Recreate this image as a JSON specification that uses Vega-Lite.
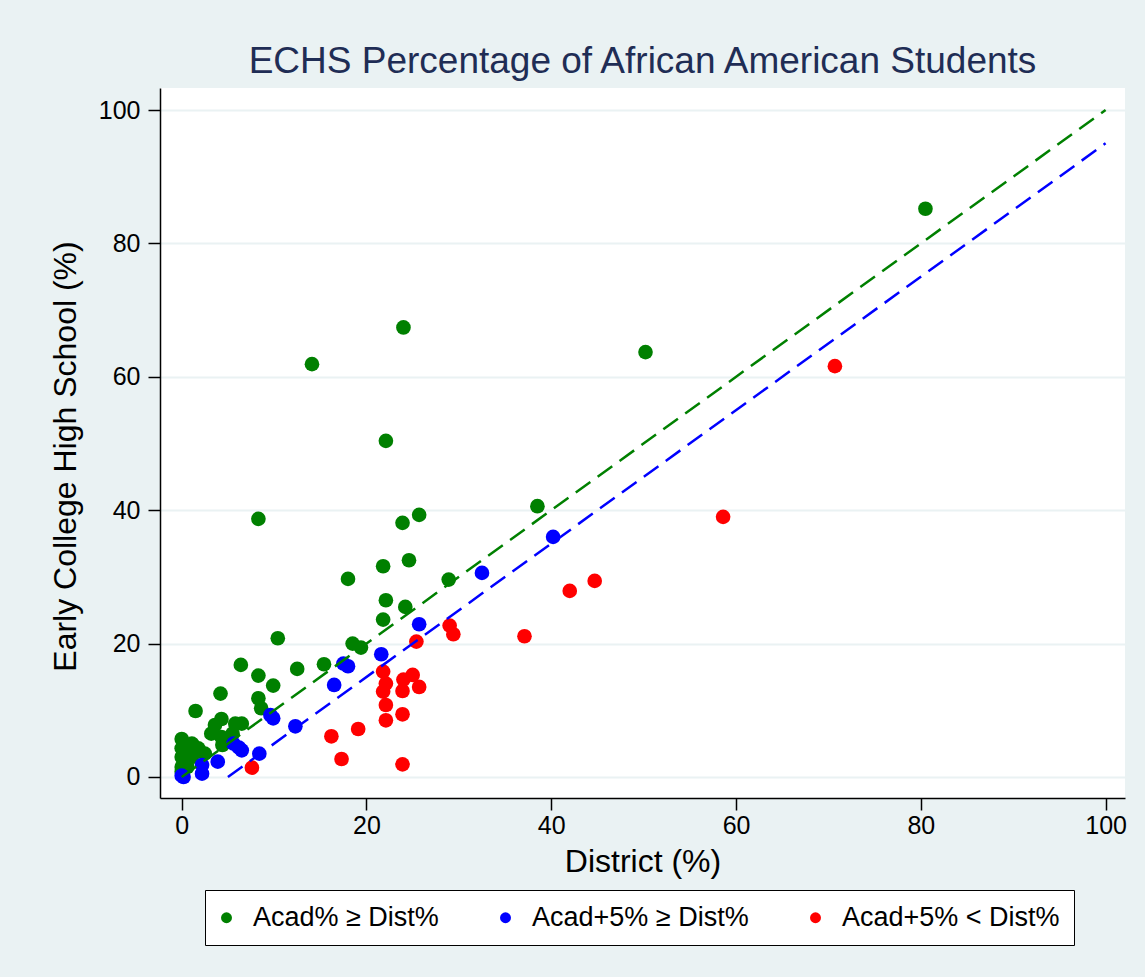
{
  "$schema": "https://vega.github.io/schema/vega-lite/v6.json",
  "autosize": {"type": "none"},
  "padding": {"left": 160, "top": 88, "right": 20, "bottom": 179},
  "width": 965,
  "height": 710,
  "background": "#EAF2F3",
  "title": {
    "text": "ECHS Percentage of African American Students",
    "font": "Liberation Sans",
    "fontSize": 37,
    "fontWeight": "normal",
    "color": "#1F2D55",
    "anchor": "middle",
    "offset": 7
  },
  "config": {
    "view": {"fill": "white", "stroke": null},
    "axis": {
      "domainColor": "black",
      "domainWidth": 1.5,
      "tickColor": "black",
      "tickWidth": 1.5,
      "tickSize": 12,
      "labelFont": "Liberation Sans",
      "labelFontSize": 25,
      "labelColor": "black",
      "titleFont": "Liberation Sans",
      "titleFontSize": 32,
      "titleFontWeight": "normal",
      "titleColor": "black"
    },
    "legend": {
      "labelFont": "Liberation Sans",
      "labelFontSize": 27,
      "labelColor": "black",
      "labelLimit": 0
    }
  },
  "datasets": {
    "pts": [
      {"district": 80.5, "echs": 85.2, "group": "Acad% ≥ Dist%"},
      {"district": 50.2, "echs": 63.7, "group": "Acad% ≥ Dist%"},
      {"district": 24.0, "echs": 67.4, "group": "Acad% ≥ Dist%"},
      {"district": 14.1, "echs": 61.9, "group": "Acad% ≥ Dist%"},
      {"district": 22.1, "echs": 50.4, "group": "Acad% ≥ Dist%"},
      {"district": 8.3, "echs": 38.7, "group": "Acad% ≥ Dist%"},
      {"district": 38.5, "echs": 40.6, "group": "Acad% ≥ Dist%"},
      {"district": 23.9, "echs": 38.1, "group": "Acad% ≥ Dist%"},
      {"district": 25.7, "echs": 39.3, "group": "Acad% ≥ Dist%"},
      {"district": 18.0, "echs": 29.7, "group": "Acad% ≥ Dist%"},
      {"district": 28.9, "echs": 29.6, "group": "Acad% ≥ Dist%"},
      {"district": 21.8, "echs": 31.6, "group": "Acad% ≥ Dist%"},
      {"district": 24.6, "echs": 32.5, "group": "Acad% ≥ Dist%"},
      {"district": 22.1, "echs": 26.5, "group": "Acad% ≥ Dist%"},
      {"district": 24.2, "echs": 25.5, "group": "Acad% ≥ Dist%"},
      {"district": 21.8, "echs": 23.6, "group": "Acad% ≥ Dist%"},
      {"district": 10.4, "echs": 20.8, "group": "Acad% ≥ Dist%"},
      {"district": 18.5, "echs": 20.0, "group": "Acad% ≥ Dist%"},
      {"district": 19.4, "echs": 19.4, "group": "Acad% ≥ Dist%"},
      {"district": 15.4, "echs": 16.9, "group": "Acad% ≥ Dist%"},
      {"district": 12.5, "echs": 16.2, "group": "Acad% ≥ Dist%"},
      {"district": 6.4, "echs": 16.8, "group": "Acad% ≥ Dist%"},
      {"district": 8.3, "echs": 15.2, "group": "Acad% ≥ Dist%"},
      {"district": 9.9, "echs": 13.7, "group": "Acad% ≥ Dist%"},
      {"district": 4.2, "echs": 12.5, "group": "Acad% ≥ Dist%"},
      {"district": 8.3, "echs": 11.8, "group": "Acad% ≥ Dist%"},
      {"district": 8.6, "echs": 10.3, "group": "Acad% ≥ Dist%"},
      {"district": 1.5, "echs": 9.9, "group": "Acad% ≥ Dist%"},
      {"district": 3.6, "echs": 7.8, "group": "Acad% ≥ Dist%"},
      {"district": 4.3, "echs": 8.7, "group": "Acad% ≥ Dist%"},
      {"district": 6.5, "echs": 8.0, "group": "Acad% ≥ Dist%"},
      {"district": 5.8, "echs": 8.0, "group": "Acad% ≥ Dist%"},
      {"district": 3.2, "echs": 6.5, "group": "Acad% ≥ Dist%"},
      {"district": 4.3, "echs": 6.0, "group": "Acad% ≥ Dist%"},
      {"district": 4.4, "echs": 4.8, "group": "Acad% ≥ Dist%"},
      {"district": 5.5, "echs": 6.5, "group": "Acad% ≥ Dist%"},
      {"district": 0.0, "echs": 5.7, "group": "Acad% ≥ Dist%"},
      {"district": 1.1, "echs": 5.0, "group": "Acad% ≥ Dist%"},
      {"district": 0.0, "echs": 4.3, "group": "Acad% ≥ Dist%"},
      {"district": 1.8, "echs": 4.3, "group": "Acad% ≥ Dist%"},
      {"district": 2.5, "echs": 3.5, "group": "Acad% ≥ Dist%"},
      {"district": 0.0, "echs": 3.0, "group": "Acad% ≥ Dist%"},
      {"district": 0.4, "echs": 2.3, "group": "Acad% ≥ Dist%"},
      {"district": 1.1, "echs": 3.0, "group": "Acad% ≥ Dist%"},
      {"district": 0.0, "echs": 1.5, "group": "Acad% ≥ Dist%"},
      {"district": 0.6, "echs": 1.5, "group": "Acad% ≥ Dist%"},
      {"district": 0.0, "echs": 0.8, "group": "Acad% ≥ Dist%"},
      {"district": 1.2, "echs": 4.8, "group": "Acad% ≥ Dist%"},
      {"district": 40.2, "echs": 36.0, "group": "Acad+5% ≥ Dist%"},
      {"district": 32.5, "echs": 30.6, "group": "Acad+5% ≥ Dist%"},
      {"district": 25.7, "echs": 22.9, "group": "Acad+5% ≥ Dist%"},
      {"district": 21.6, "echs": 18.4, "group": "Acad+5% ≥ Dist%"},
      {"district": 17.5, "echs": 17.0, "group": "Acad+5% ≥ Dist%"},
      {"district": 18.0, "echs": 16.6, "group": "Acad+5% ≥ Dist%"},
      {"district": 16.5, "echs": 13.8, "group": "Acad+5% ≥ Dist%"},
      {"district": 12.3, "echs": 7.6, "group": "Acad+5% ≥ Dist%"},
      {"district": 9.9, "echs": 8.8, "group": "Acad+5% ≥ Dist%"},
      {"district": 9.6, "echs": 9.3, "group": "Acad+5% ≥ Dist%"},
      {"district": 8.4, "echs": 3.5, "group": "Acad+5% ≥ Dist%"},
      {"district": 6.5, "echs": 4.0, "group": "Acad+5% ≥ Dist%"},
      {"district": 5.6, "echs": 5.0, "group": "Acad+5% ≥ Dist%"},
      {"district": 6.2, "echs": 4.4, "group": "Acad+5% ≥ Dist%"},
      {"district": 3.9, "echs": 2.3, "group": "Acad+5% ≥ Dist%"},
      {"district": 2.2, "echs": 1.8, "group": "Acad+5% ≥ Dist%"},
      {"district": 2.2, "echs": 0.5, "group": "Acad+5% ≥ Dist%"},
      {"district": 0.2, "echs": 0.0, "group": "Acad+5% ≥ Dist%"},
      {"district": 0.0, "echs": 0.2, "group": "Acad+5% ≥ Dist%"},
      {"district": 70.7, "echs": 61.6, "group": "Acad+5% < Dist%"},
      {"district": 58.6, "echs": 39.0, "group": "Acad+5% < Dist%"},
      {"district": 44.7, "echs": 29.4, "group": "Acad+5% < Dist%"},
      {"district": 42.0, "echs": 27.9, "group": "Acad+5% < Dist%"},
      {"district": 37.1, "echs": 21.1, "group": "Acad+5% < Dist%"},
      {"district": 29.0, "echs": 22.7, "group": "Acad+5% < Dist%"},
      {"district": 29.4, "echs": 21.4, "group": "Acad+5% < Dist%"},
      {"district": 25.4, "echs": 20.3, "group": "Acad+5% < Dist%"},
      {"district": 21.8, "echs": 15.8, "group": "Acad+5% < Dist%"},
      {"district": 22.1, "echs": 14.0, "group": "Acad+5% < Dist%"},
      {"district": 21.8, "echs": 12.8, "group": "Acad+5% < Dist%"},
      {"district": 24.0, "echs": 14.6, "group": "Acad+5% < Dist%"},
      {"district": 25.0, "echs": 15.3, "group": "Acad+5% < Dist%"},
      {"district": 23.9, "echs": 12.9, "group": "Acad+5% < Dist%"},
      {"district": 25.7, "echs": 13.5, "group": "Acad+5% < Dist%"},
      {"district": 22.1, "echs": 10.8, "group": "Acad+5% < Dist%"},
      {"district": 22.1, "echs": 8.5, "group": "Acad+5% < Dist%"},
      {"district": 23.9, "echs": 9.4, "group": "Acad+5% < Dist%"},
      {"district": 19.1, "echs": 7.2, "group": "Acad+5% < Dist%"},
      {"district": 16.2, "echs": 6.1, "group": "Acad+5% < Dist%"},
      {"district": 17.3, "echs": 2.7, "group": "Acad+5% < Dist%"},
      {"district": 23.9, "echs": 1.9, "group": "Acad+5% < Dist%"},
      {"district": 7.6, "echs": 1.4, "group": "Acad+5% < Dist%"}
    ],
    "lines": [
      {"district": 0, "echs": 0, "ref": "equal"},
      {"district": 100, "echs": 100, "ref": "equal"},
      {"district": 5, "echs": 0, "ref": "minus5"},
      {"district": 100, "echs": 95, "ref": "minus5"}
    ]
  },
  "layer": [
    {
      "data": {"name": "pts"},
      "mark": {"type": "point", "shape": "circle", "filled": true, "opacity": 1, "size": 215},
      "encoding": {
        "x": {
          "field": "district", "type": "quantitative",
          "scale": {"domain": [-2.35, 102.1], "nice": false, "zero": false},
          "axis": {"title": "District (%)", "values": [0, 20, 40, 60, 80, 100], "grid": false, "labelPadding": 3, "titlePadding": 8}
        },
        "y": {
          "field": "echs", "type": "quantitative",
          "scale": {"domain": [-3.15, 103.3], "nice": false, "zero": false},
          "axis": {"title": "Early College High School (%)", "values": [0, 20, 40, 60, 80, 100], "grid": true, "gridColor": "#EAF2F3", "gridWidth": 2, "labelPadding": 8, "titlePadding": 16, "titleY": 368}
        },
        "color": {
          "field": "group", "type": "nominal",
          "scale": {"domain": ["Acad% ≥ Dist%", "Acad+5% ≥ Dist%", "Acad+5% < Dist%"], "range": ["#008000", "#0000FF", "#FF0000"]},
          "legend": {
            "title": null,
            "orient": "none",
            "legendX": 45,
            "legendY": 802,
            "direction": "horizontal",
            "symbolType": "circle",
            "symbolSize": 120,
            "symbolStrokeWidth": 0,
            "symbolOffset": -6,
            "labelOffset": 13,
            "columnPadding": 59,
            "padding": 14,
            "strokeColor": "black",
            "fillColor": "white"
          }
        }
      }
    },
    {
      "data": {"name": "lines"},
      "mark": {"type": "line", "strokeDash": [18, 9], "strokeWidth": 2.5},
      "encoding": {
        "x": {"field": "district", "type": "quantitative"},
        "y": {"field": "echs", "type": "quantitative"},
        "stroke": {
          "field": "ref", "type": "nominal",
          "scale": {"domain": ["equal", "minus5"], "range": ["#008000", "#0000FF"]},
          "legend": null
        }
      }
    }
  ]
}
